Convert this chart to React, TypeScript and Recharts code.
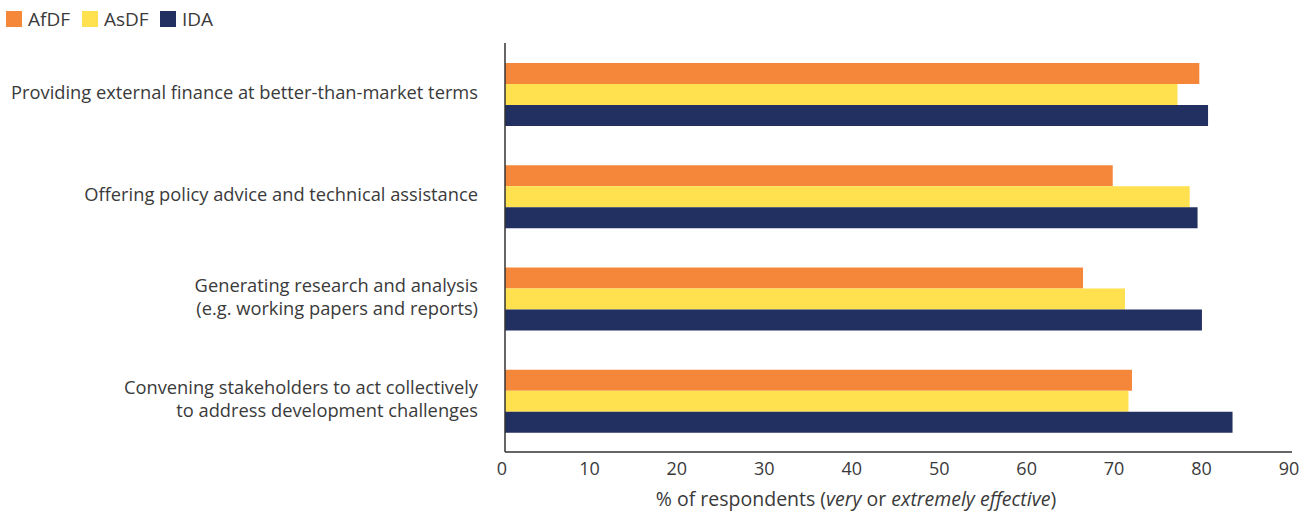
import { BarChart, Bar, XAxis, YAxis, Legend } from 'recharts';

const categories = [
  "Providing external finance at better-than-market terms",
  "Offering policy advice and technical assistance",
  "Generating research and analysis\n(e.g. working papers and reports)",
  "Convening stakeholders to act collectively\nto address development challenges",
];
const afdf = [79.4, 69.5, 66.1, 71.7];
const asdf = [76.9, 78.3, 70.9, 71.3];
const ida = [80.4, 79.2, 79.7, 83.2];
const xTicks = [0, 10, 20, 30, 40, 50, 60, 70, 80, 90];

const series = [
  { key: "AfDF", color: "#F5873A", w: 76 },
  { key: "AsDF", color: "#FFE04F", w: 78 },
  { key: "IDA", color: "#222F61", w: 60 },
];

const data = categories.map((name, i) => ({
  name,
  AfDF: afdf[i],
  AsDF: asdf[i],
  IDA: ida[i],
}));

const FONT = "'Open Sans', Lato, sans-serif";

// multi-line category labels, right-aligned next to the axis
function CategoryTick(props: any) {
  const { x, y, payload } = props;
  const lines = String(payload.value).split("\n");
  const lh = 23;
  const start = -((lines.length - 1) * lh) / 2;
  return (
    <g>
      {lines.map((l, i) => (
        <text key={i} x={x - 19} y={y + start + i * lh - 2} dy="0.35em" textAnchor="end" fill="#3a3a3a" fontSize={18.3} fontFamily={FONT}>
          {l}
        </text>
      ))}
    </g>
  );
}

function ValueTick(props: any) {
  const { x, y, payload } = props;
  return (
    <text x={x - 3} y={y + 15} textAnchor="middle" fill="#3a3a3a" fontSize={18} fontFamily={FONT}>
      {payload.value}
    </text>
  );
}

function LegendContent() {
  return (
    <div style={{ display: "flex", alignItems: "center", fontFamily: FONT, fontSize: 19, lineHeight: "20px", color: "#3a3a3a" }}>
      {series.map((s) => (
        <div key={s.key} style={{ display: "flex", alignItems: "center", width: s.w }}>
          <span style={{ width: 16, height: 16, background: s.color, display: "inline-block", marginRight: 6, flexShrink: 0 }} />
          <span>{s.key}</span>
        </div>
      ))}
    </div>
  );
}

function AxisTitle() {
  return (
    <text x={856} y={506} textAnchor="middle" fill="#3a3a3a" fontSize={19.5} fontFamily={FONT}>
      % of respondents (<tspan fontStyle="italic">very</tspan> or <tspan fontStyle="italic">extremely effective</tspan>)
    </text>
  );
}

export default function App() {
  return (
    <div style={{ position: "absolute", left: 0, top: 0, width: 1314, height: 515, background: "#fff" }}>
      <BarChart
        width={1314}
        height={515}
        data={data}
        layout="vertical"
        margin={{ top: 23, right: 22, bottom: 0, left: 0 }}
        barGap={0}
        barSize={21}
      >
        <Legend
          verticalAlign="top"
          align="left"
          height={20}
          content={<LegendContent />}
          wrapperStyle={{ top: 9, left: 6, width: 400 }}
        />
        <XAxis
          type="number"
          domain={[0, 90]}
          ticks={xTicks}
          tickLine={false}
          axisLine={{ stroke: "#333", strokeWidth: 1.5 }}
          tick={<ValueTick />}
          height={63}
          interval={0}
          label={<AxisTitle />}
        />
        <YAxis
          type="category"
          dataKey="name"
          width={505}
          tickLine={false}
          axisLine={{ stroke: "#333", strokeWidth: 1.5 }}
          tick={<CategoryTick />}
          interval={0}
        />
        {series.map((s) => (
          <Bar key={s.key} dataKey={s.key} fill={s.color} isAnimationActive={false} />
        ))}
      </BarChart>
    </div>
  );
}
